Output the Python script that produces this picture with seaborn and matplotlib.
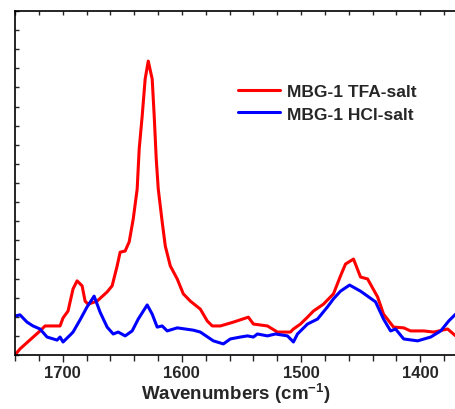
import matplotlib
matplotlib.use("Agg")
import matplotlib.pyplot as plt
from matplotlib.ticker import MultipleLocator, NullFormatter
import seaborn as sns
import pandas as pd

# Red: MBG-1 TFA-salt
tfa_wn = [1740.0, 1735.8, 1719.0, 1714.8, 1702.2, 1699.7, 1695.5, 1691.3, 1687.9, 1683.7,
          1681.2, 1678.7, 1671.1, 1662.7, 1658.5, 1654.3, 1651.8, 1647.6, 1644.2, 1640.8,
          1637.5, 1635.8, 1633.3, 1630.8, 1628.2, 1624.9, 1623.2, 1621.5, 1619.8, 1616.5,
          1613.9, 1609.7, 1603.9, 1598.8, 1592.9, 1584.5, 1578.7, 1574.5, 1567.7, 1556.8,
          1544.2, 1540.0, 1528.2, 1519.8, 1508.9, 1506.4, 1500.5, 1494.6, 1489.6, 1481.2,
          1472.8, 1466.9, 1462.7, 1456.0, 1450.1, 1444.2, 1435.8, 1430.8, 1422.4, 1413.9,
          1408.1, 1397.1, 1388.7, 1377.0, 1370.3]
tfa_int = [0.000, 0.016, 0.063, 0.076, 0.076, 0.097, 0.115, 0.173, 0.194, 0.181,
           0.141, 0.133, 0.141, 0.165, 0.181, 0.233, 0.269, 0.272, 0.296, 0.356,
           0.434, 0.539, 0.625, 0.722, 0.769, 0.722, 0.625, 0.513, 0.434, 0.348,
           0.285, 0.233, 0.199, 0.160, 0.141, 0.120, 0.089, 0.076, 0.076, 0.086,
           0.099, 0.081, 0.076, 0.060, 0.060, 0.068, 0.081, 0.099, 0.115, 0.133,
           0.160, 0.207, 0.238, 0.251, 0.204, 0.199, 0.152, 0.107, 0.073, 0.071,
           0.063, 0.063, 0.060, 0.068, 0.050]

# Blue: MBG-1 HCl-salt
hcl_wn = [1740.0, 1735.8, 1729.9, 1724.9, 1719.0, 1713.1, 1704.7, 1702.2, 1699.7, 1693.8,
          1691.3, 1685.4, 1679.5, 1673.6, 1668.6, 1662.7, 1657.6, 1653.4, 1647.6, 1641.7,
          1636.6, 1629.1, 1624.9, 1620.7, 1616.5, 1612.3, 1603.9, 1590.4, 1584.5, 1573.6,
          1565.2, 1559.3, 1550.9, 1545.0, 1540.0, 1536.6, 1528.2, 1521.5, 1511.4, 1506.4,
          1503.0, 1494.6, 1486.2, 1477.8, 1472.8, 1466.9, 1459.3, 1450.1, 1444.2, 1437.5,
          1430.8, 1424.9, 1420.7, 1413.9, 1402.2, 1391.2, 1382.8, 1376.1, 1370.3]
hcl_int = [0.102, 0.105, 0.086, 0.076, 0.068, 0.047, 0.039, 0.047, 0.034, 0.052,
           0.060, 0.092, 0.126, 0.154, 0.112, 0.073, 0.055, 0.060, 0.050, 0.063,
           0.094, 0.131, 0.107, 0.073, 0.076, 0.063, 0.071, 0.065, 0.060, 0.037,
           0.029, 0.042, 0.047, 0.050, 0.047, 0.055, 0.050, 0.055, 0.050, 0.034,
           0.055, 0.081, 0.094, 0.126, 0.147, 0.167, 0.183, 0.167, 0.154, 0.139,
           0.094, 0.063, 0.068, 0.042, 0.037, 0.047, 0.063, 0.089, 0.107]

labels = ["MBG-1 TFA-salt", "MBG-1 HCl-salt"]
colors = ["#ff0000", "#0000ff"]
xticks = [1700, 1600, 1500, 1400]
xlabel = "Wavenumbers (cm$^{\\mathbf{-1}}$)"

sns.set_style("white")
plt.rcParams["font.family"] = ["Liberation Sans", "DejaVu Sans"]
plt.rcParams["mathtext.fontset"] = "custom"
plt.rcParams["mathtext.rm"] = "Liberation Sans:bold"
plt.rcParams["mathtext.bf"] = "Liberation Sans:bold"
plt.rcParams["mathtext.default"] = "bf"

fig = plt.figure(figsize=(4.56, 4.10), dpi=100)
ax = fig.add_axes([15 / 456, 54 / 410, 1 - 15 / 456, 344 / 410])

df1 = pd.DataFrame({"wn": tfa_wn, "y": tfa_int})
df2 = pd.DataFrame({"wn": hcl_wn, "y": hcl_int})
sns.lineplot(data=df1, x="wn", y="y", color=colors[0], lw=2.2, label=labels[0], ax=ax, sort=False)
sns.lineplot(data=df2, x="wn", y="y", color=colors[1], lw=2.2, label=labels[1], ax=ax, sort=False)

ax.set_xlim(1740, 1370)
ax.set_ylim(0, 0.9)

ax.set_xticks(xticks)
ax.xaxis.set_minor_locator(MultipleLocator(20))
ax.yaxis.set_major_locator(MultipleLocator(0.05))
ax.yaxis.set_major_formatter(NullFormatter())

for s in ["top", "left", "bottom"]:
    ax.spines[s].set_visible(True)
    ax.spines[s].set_color("black")
    ax.spines[s].set_linewidth(1.2)
ax.spines["right"].set_visible(False)

ax.tick_params(axis="x", which="major", direction="out", length=5, width=1, bottom=True, top=False,
               labelsize=12, pad=2)
ax.tick_params(axis="x", which="minor", direction="out", length=4, width=1, bottom=True, top=False)
ax.tick_params(axis="y", which="major", direction="in", length=3, width=1, left=True, right=False)
for lab in ax.get_xticklabels():
    lab.set_fontweight("bold")

# inward ticks along the top spine
top = ax.secondary_xaxis("top")
top.set_xticks(xticks)
top.xaxis.set_minor_locator(MultipleLocator(20))
top.tick_params(axis="x", which="both", direction="in", length=3, width=1, labeltop=False)
top.spines["top"].set_visible(False)

ax.set_xlabel(xlabel, fontsize=13.5, fontweight="bold", labelpad=1)
ax.set_ylabel("")

leg = ax.legend(loc="upper left", bbox_to_anchor=(0.506, 0.788), frameon=False,
                prop={"weight": "bold", "size": 12.5}, handlelength=2.4,
                handletextpad=0.4, labelspacing=0.42, borderaxespad=0, borderpad=0)

fig.savefig("out.png", dpi=100)
